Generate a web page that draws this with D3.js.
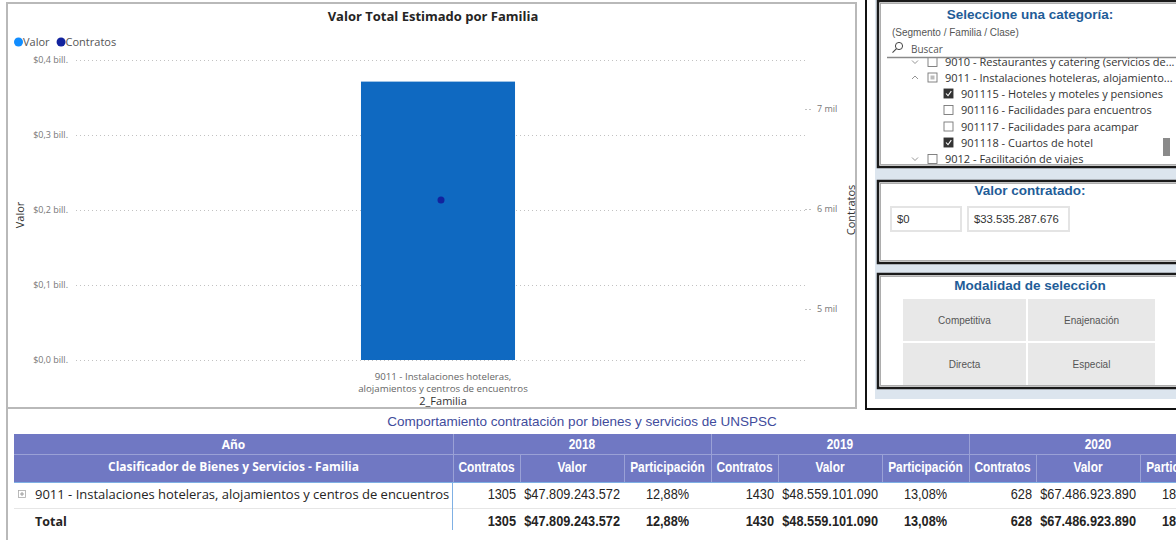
<!DOCTYPE html>
<html><head><meta charset="utf-8">
<script src="https://cdn.jsdelivr.net/npm/d3@7"></script>
<style>
html,body{margin:0;padding:0;background:#fff;}
svg{display:block;}
text{font-family:"Segoe UI","Open Sans","Noto Sans",sans-serif;}
.narrow{font-family:"Liberation Sans Narrow","Arial Narrow","Liberation Sans",sans-serif;}
.arial{font-family:"Liberation Sans",Arial,sans-serif;}
</style></head>
<body>
<svg id="c" width="1176" height="540"></svg>
<script>
// ---------- data ----------
const categories = ["9011 - Instalaciones hoteleras, alojamientos y centros de encuentros"];
const categoryLabelLines = ["9011 - Instalaciones hoteleras,", "alojamientos y centros de encuentros"];
const valorTotal = [371200000000];
const contratosTotal = [6090];
const valorTicks = [0, 1e11, 2e11, 3e11, 4e11];
const contratosTicks = [5000, 6000, 7000];
const legendItems = ["Valor", "Contratos"];

const years = ["2018", "2019", "2020"];
const yearContratos = [1305, 1430, 628];
const yearValor = [47809243572, 48559101090, 67486923890];
const yearParticipacion = [12.88, 13.08, 18.18];
const subColumns = ["Contratos", "Valor", "Participación"];

const treeItems = [
  {level:0, caret:"down", state:"none", label:"9010 - Restaurantes y catering (servicios de..."},
  {level:0, caret:"up", state:"partial", label:"9011 - Instalaciones hoteleras, alojamiento..."},
  {level:1, state:"checked", label:"901115 - Hoteles y moteles y pensiones"},
  {level:1, state:"none", label:"901116 - Facilidades para encuentros"},
  {level:1, state:"none", label:"901117 - Facilidades para acampar"},
  {level:1, state:"checked", label:"901118 - Cuartos de hotel"},
  {level:0, caret:"down", state:"none", label:"9012 - Facilitación de viajes"}
];
const rangoValor = [0, 33535287676];
const modalidades = ["Competitiva", "Enajenación", "Directa", "Especial"];

// ---------- setup ----------
const loc = d3.formatLocale({decimal:",", thousands:".", grouping:[3], currency:["$",""]});
const fmtMoney = loc.format("$,.0f");
const fmtPct = v => loc.format(".2f")(v) + "%";
const fmtBill = v => "$" + loc.format(".1f")(v / 1e12) + " bill.";
const fmtMil = v => loc.format(",.0f")(v / 1000) + " mil";

const svg = d3.select("#c");

// condensed look (no narrow font installed): compress glyphs horizontally
function squeeze(sel, k) {
  sel.each(function () {
    const w = this.getComputedTextLength();
    d3.select(this).attr("textLength", w * k).attr("lengthAdjust", "spacingAndGlyphs");
  });
  return sel;
}

// ================= LEFT CHART PANEL =================
svg.append("rect").attr("x", 7).attr("y", 3).attr("width", 849).attr("height", 405)
  .attr("fill", "#fff").attr("stroke", "#b9b9b9").attr("stroke-width", 2);

svg.append("text").attr("x", 433).attr("y", 21).attr("text-anchor", "middle")
  .attr("font-size", 13).attr("font-weight", "bold").attr("fill", "#252423")
  .text("Valor Total Estimado por Familia");

// legend
const legColors = ["#118DFF", "#12239E"];
let lx = 14;
legendItems.forEach((t, i) => {
  svg.append("circle").attr("cx", lx + 4.5).attr("cy", 42).attr("r", 4.5).attr("fill", legColors[i]);
  const tx = svg.append("text").attr("x", lx + 9).attr("y", 46).attr("font-size", 11)
    .attr("fill", "#555").text(t);
  lx += 9 + tx.node().getComputedTextLength() + 7;
});

const plotL = 76, plotR = 806;
const x = d3.scaleBand().domain(categories).range([plotL, plotR - 6]).paddingInner(0).paddingOuter(1.85);
const yV = d3.scaleLinear().domain([0, 4e11]).range([360, 60]);
const yC = d3.scaleLinear().domain([5000, 7000]).range([309, 109]);

// left axis with grid
const gL = svg.append("g").attr("transform", `translate(${plotL},0)`)
  .call(d3.axisLeft(yV).tickValues(valorTicks).tickFormat(fmtBill)
    .tickSizeInner(-(plotR - plotL)).tickSizeOuter(0).tickPadding(8));
gL.select(".domain").remove();
gL.selectAll("line").attr("stroke", "#c2c2c2").attr("stroke-dasharray", "1,3");
gL.selectAll("text").attr("font-size", 9).attr("fill", "#777")
  .style("font-family", '"Segoe UI","Open Sans","Noto Sans",sans-serif');

// right axis
const gR = svg.append("g").attr("transform", `translate(${plotR + 5},0)`)
  .call(d3.axisRight(yC).tickValues(contratosTicks).tickFormat(fmtMil)
    .tickSizeInner(-8).tickSizeOuter(0).tickPadding(6));
gR.select(".domain").remove();
gR.selectAll("line").attr("stroke", "#c2c2c2").attr("stroke-dasharray", "2,2");
gR.selectAll("text").attr("font-size", 9).attr("fill", "#777")
  .style("font-family", '"Segoe UI","Open Sans","Noto Sans",sans-serif');

// axis titles
svg.append("text").attr("transform", "translate(24,215) rotate(-90)").attr("text-anchor", "middle")
  .attr("font-size", 11).attr("fill", "#333").text("Valor");
svg.append("text").attr("transform", "translate(855,210) rotate(-90)").attr("text-anchor", "middle")
  .attr("font-size", 11).attr("fill", "#333").text("Contratos");

// bars
svg.selectAll("rect.bar").data(categories).enter().append("rect").attr("class", "bar")
  .attr("x", d => x(d)).attr("width", x.bandwidth())
  .attr("y", (d, i) => yV(valorTotal[i])).attr("height", (d, i) => yV(0) - yV(valorTotal[i]))
  .attr("fill", "#0F69C1");

// line points
svg.selectAll("circle.pt").data(categories).enter().append("circle").attr("class", "pt")
  .attr("cx", d => x(d) + x.bandwidth() / 2 + 3).attr("cy", (d, i) => yC(contratosTotal[i]))
  .attr("r", 3.5).attr("fill", "#12239E");

// category labels
categories.forEach(c => {
  const cx = x(c) + x.bandwidth() / 2 + 5;
  categoryLabelLines.forEach((ln, j) => {
    svg.append("text").attr("x", cx).attr("y", 379.5 + j * 12.5).attr("text-anchor", "middle")
      .attr("font-size", 9.7).attr("fill", "#666").text(ln);
  });
});
svg.append("text").attr("x", 443).attr("y", 405).attr("text-anchor", "middle")
  .attr("font-size", 11).attr("fill", "#333").text("2_Familia");

// ================= RIGHT FILTER PANEL =================
svg.append("rect").attr("x", 866).attr("y", -2).attr("width", 320).attr("height", 411)
  .attr("fill", "#fff").attr("stroke", "#111").attr("stroke-width", 2);
svg.append("rect").attr("x", 875).attr("y", 0).attr("width", 301).attr("height", 399).attr("fill", "#DCE5EE");

function panel(y, h) {
  svg.append("rect").attr("x", 878).attr("y", y).attr("width", 310).attr("height", h)
    .attr("fill", "#fff").attr("stroke", "#1a1a1a").attr("stroke-width", 2.5);
  svg.append("rect").attr("x", 880.5).attr("y", y + 2.5).attr("width", 305).attr("height", h - 5)
    .attr("fill", "none").attr("stroke", "#9a9a9a").attr("stroke-width", 0.8);
}
const titleColor = "#1F5D98";
panel(1, 166);
svg.append("text").attr("class", "arial").attr("x", 1030).attr("y", 19).attr("text-anchor", "middle")
  .attr("font-size", 13.5).attr("font-weight", "bold").attr("fill", titleColor).text("Seleccione una categoría:");
svg.append("text").attr("class", "arial").attr("x", 892).attr("y", 36).attr("font-size", 10)
  .attr("fill", "#555").text("(Segmento / Familia / Clase)");
// search icon
svg.append("circle").attr("cx", 899).attr("cy", 46).attr("r", 3.6).attr("fill", "none").attr("stroke", "#444").attr("stroke-width", 1);
svg.append("line").attr("x1", 896.5).attr("y1", 48.7).attr("x2", 892.5).attr("y2", 52.7).attr("stroke", "#444").attr("stroke-width", 1.1);
svg.append("text").attr("x", 911).attr("y", 53).attr("font-size", 10).attr("fill", "#555").text("Buscar");

const treeG = svg.append("g");
const clip = svg.append("clipPath").attr("id", "treeclip");
clip.append("rect").attr("x", 880).attr("y", 58).attr("width", 296).attr("height", 107);
treeG.attr("clip-path", "url(#treeclip)");
const treeY0 = 62, treeDy = [0, 15.5, 31.5, 48, 64.5, 80.5, 97];
treeItems.forEach((it, i) => {
  const cy = treeY0 + treeDy[i];
  const bx = it.level === 0 ? 928 : 944;
  if (it.caret) {
    const cx = 915;
    const pts = it.caret === "down" ? [[cx - 3, cy - 1.5], [cx, cy + 1.5], [cx + 3, cy - 1.5]]
                                    : [[cx - 3, cy + 1.5], [cx, cy - 1.5], [cx + 3, cy + 1.5]];
    treeG.append("polyline").attr("points", pts.map(p => p.join(",")).join(" "))
      .attr("fill", "none").attr("stroke", "#888").attr("stroke-width", 0.9);
  }
  treeG.append("rect").attr("x", bx).attr("y", cy - 4.5).attr("width", 9).attr("height", 9)
    .attr("fill", it.state === "checked" ? "#333" : "#fff")
    .attr("stroke", it.state === "checked" ? "#333" : "#777").attr("stroke-width", 0.9);
  if (it.state === "checked") {
    treeG.append("polyline").attr("points", `${bx + 2},${cy} ${bx + 4},${cy + 2.2} ${bx + 7.3},${cy - 2.4}`)
      .attr("fill", "none").attr("stroke", "#fff").attr("stroke-width", 1.1);
  }
  if (it.state === "partial") {
    treeG.append("rect").attr("x", bx + 2.5).attr("y", cy - 2).attr("width", 4).attr("height", 4).attr("fill", "#bbb");
  }
  treeG.append("text").attr("x", bx + 17).attr("y", cy + 4).attr("font-size", 11).attr("fill", "#333").text(it.label);
});
svg.append("line").attr("x1", 887).attr("x2", 1176).attr("y1", 57.5).attr("y2", 57.5).attr("stroke", "#8a8a8a").attr("stroke-width", 1.6);
svg.append("rect").attr("x", 1163).attr("y", 138).attr("width", 7).attr("height", 18).attr("fill", "#8a8a8a");

// panel 2
panel(181, 82);
svg.append("text").attr("class", "arial").attr("x", 1030).attr("y", 195).attr("text-anchor", "middle")
  .attr("font-size", 13.5).attr("font-weight", "bold").attr("fill", titleColor).text("Valor contratado:");
const boxes = [{x:891, w:70}, {x:968, w:101}];
rangoValor.forEach((v, i) => {
  svg.append("rect").attr("x", boxes[i].x).attr("y", 207).attr("width", boxes[i].w).attr("height", 24)
    .attr("fill", "#fff").attr("stroke", "#e4e4e4").attr("stroke-width", 2);
  svg.append("text").attr("class", "arial").attr("x", boxes[i].x + 6).attr("y", 223).attr("font-size", 11.3)
    .attr("fill", "#333").text(fmtMoney(v));
});

// panel 3
panel(274, 114);
svg.append("text").attr("class", "arial").attr("x", 1030).attr("y", 290).attr("text-anchor", "middle")
  .attr("font-size", 13.5).attr("font-weight", "bold").attr("fill", titleColor).text("Modalidad de selección");
modalidades.forEach((m, i) => {
  const col = i % 2, row = Math.floor(i / 2);
  const bx = col === 0 ? 903 : 1028, bw = col === 0 ? 123 : 127;
  const by = row === 0 ? 299 : 343;
  svg.append("rect").attr("x", bx).attr("y", by).attr("width", bw).attr("height", 42).attr("fill", "#E8E8E8");
  svg.append("text").attr("class", "arial").attr("x", bx + bw / 2).attr("y", by + 25).attr("text-anchor", "middle")
    .attr("font-size", 10).attr("fill", "#555").text(m);
});

// ================= TABLE =================
svg.append("line").attr("x1", 7).attr("x2", 7).attr("y1", 409).attr("y2", 540).attr("stroke", "#b9b9b9").attr("stroke-width", 2);
svg.append("text").attr("class", "arial").attr("x", 582).attr("y", 426).attr("text-anchor", "middle")
  .attr("font-size", 13.5).attr("fill", "#3F4C9C").text("Comportamiento contratación por bienes y servicios de UNSPSC");

const tableG = svg.append("g");
const tL = 14, firstColR = 453;
const colW = [67, 104, 87];
const yearW = d3.sum(colW);
const hdrBg = "#7078C3";
const row1Y = 434, row1H = 20, row2Y = 455, row2H = 27;
tableG.append("rect").attr("x", tL).attr("y", row1Y).attr("width", 1176 - tL).attr("height", row1H + row2H + 1).attr("fill", hdrBg);
tableG.append("line").attr("x1", tL).attr("x2", 1176).attr("y1", row2Y - 0.5).attr("y2", row2Y - 0.5).attr("stroke", "#9AA1D6").attr("stroke-width", 1);
tableG.append("line").attr("x1", tL).attr("x2", 1176).attr("y1", row2Y + row2H + 0.5).attr("y2", row2Y + row2H + 0.5).attr("stroke", "#7FB0E4").attr("stroke-width", 1.2);

tableG.append("text").attr("x", (tL + firstColR) / 2).attr("y", row1Y + 15).attr("text-anchor", "middle")
  .attr("font-size", 12).attr("font-weight", "bold").attr("fill", "#fff").text("Año");
tableG.append("text").attr("x", (tL + firstColR) / 2).attr("y", row2Y + 16).attr("text-anchor", "middle")
  .attr("font-size", 12).attr("font-weight", "bold").attr("fill", "#fff").text("Clasificador de Bienes y Servicios - Familia");

const vline = (xx, y1, y2, col) => tableG.append("line").attr("x1", xx).attr("x2", xx).attr("y1", y1).attr("y2", y2).attr("stroke", col).attr("stroke-width", 1);
vline(firstColR + 0.5, row1Y, row2Y + row2H, "#9AA1D6");

const K = 0.85;
years.forEach((yr, k) => {
  const x0 = firstColR + k * yearW;
  squeeze(tableG.append("text").attr("class", "narrow").attr("x", x0 + yearW / 2).attr("y", row1Y + 15).attr("text-anchor", "middle")
    .attr("font-size", 14).attr("font-weight", "bold").attr("fill", "#fff").text(yr), K);
  if (k > 0) vline(x0 + 0.5, row1Y, row2Y + row2H, "#9AA1D6");
  let cx = x0;
  subColumns.forEach((sc, j) => {
    if (j > 0) vline(cx + 0.5, row2Y, row2Y + row2H, "#9AA1D6");
    squeeze(tableG.append("text").attr("class", "narrow").attr("x", cx + colW[j] / 2).attr("y", row2Y + 17).attr("text-anchor", "middle")
      .attr("font-size", 14).attr("font-weight", "bold").attr("fill", "#fff").text(sc), K);
    cx += colW[j];
  });
  // data + total rows
  [494, 521].forEach((ty, r) => {
    const bold = r === 1 ? "bold" : "normal";
    const c0 = x0;
    squeeze(tableG.append("text").attr("class", "narrow").attr("x", c0 + colW[0] - 4).attr("y", ty + 5).attr("text-anchor", "end")
      .attr("font-size", 15).attr("font-weight", bold).attr("fill", "#252423").text(yearContratos[k]), K);
    squeeze(tableG.append("text").attr("class", "narrow").attr("x", c0 + colW[0] + colW[1] - 4).attr("y", ty + 5).attr("text-anchor", "end")
      .attr("font-size", 15).attr("font-weight", bold).attr("fill", "#252423").text(fmtMoney(yearValor[k])), K);
    squeeze(tableG.append("text").attr("class", "narrow").attr("x", c0 + colW[0] + colW[1] + colW[2] / 2).attr("y", ty + 5).attr("text-anchor", "middle")
      .attr("font-size", 15).attr("font-weight", bold).attr("fill", "#252423").text(fmtPct(yearParticipacion[k])), K);
  });
});
// body rows
tableG.append("line").attr("x1", tL).attr("x2", 1176).attr("y1", 508.5).attr("y2", 508.5).attr("stroke", "#e6e6e6");
vline(firstColR - 0.5, 483, 530, "#7FB0E4");
// expand icon
tableG.append("rect").attr("x", 18.5).attr("y", 490.5).attr("width", 7).attr("height", 7).attr("fill", "#fff").attr("stroke", "#aaa").attr("stroke-width", 0.8);
tableG.append("line").attr("x1", 20).attr("x2", 24).attr("y1", 494).attr("y2", 494).attr("stroke", "#888").attr("stroke-width", 0.8);
tableG.append("line").attr("x1", 22).attr("x2", 22).attr("y1", 492).attr("y2", 496).attr("stroke", "#888").attr("stroke-width", 0.8);
tableG.append("text").attr("x", 35).attr("y", 499).attr("font-size", 13).attr("fill", "#252423").text(categories[0]);
tableG.append("text").attr("x", 35).attr("y", 526).attr("font-size", 12.5).attr("font-weight", "bold").attr("fill", "#252423").text("Total");
</script>
</body></html>
